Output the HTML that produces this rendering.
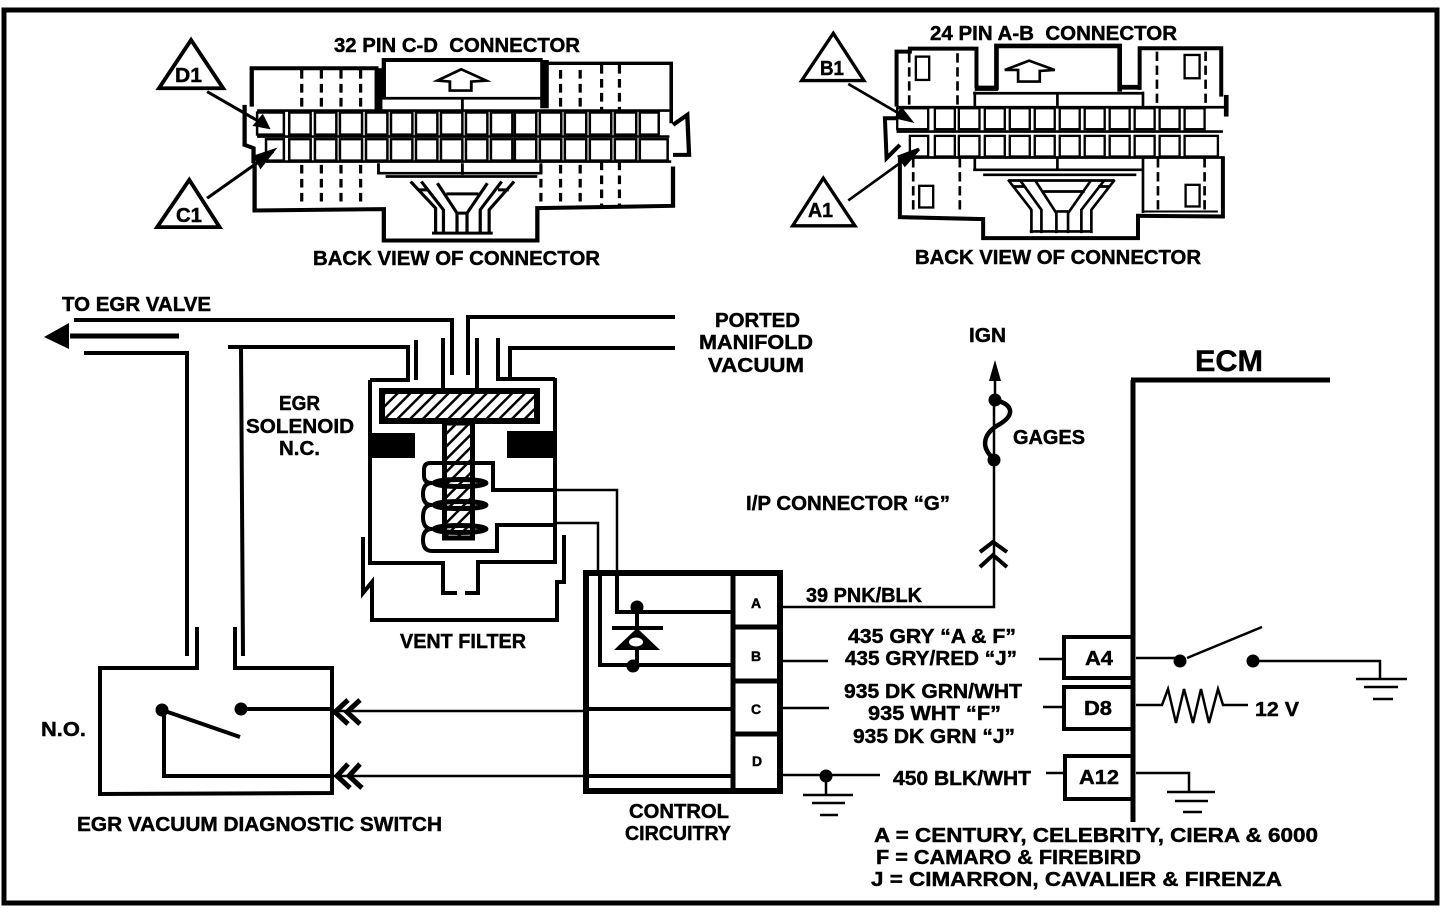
<!DOCTYPE html>
<html><head><meta charset="utf-8"><style>
html,body{margin:0;padding:0;background:#fff;width:1456px;height:918px;overflow:hidden}
svg{display:block}
text{font-family:"Liberation Sans",sans-serif;font-weight:bold;font-size:20px;fill:#000;stroke:#000;stroke-width:.45}
.l{fill:none;stroke:#000;stroke-width:4}
.t{fill:none;stroke:#000;stroke-width:2.5}
.d{fill:#000;stroke:none}
.c rect{fill:none;stroke:#000;stroke-width:7}
</style></head><body>
<svg width="1456" height="918" viewBox="0 0 1456 918" xmlns="http://www.w3.org/2000/svg">
<defs><pattern id="h" width="9" height="9" patternUnits="userSpaceOnUse" patternTransform="rotate(45)"><rect width="9" height="9" fill="#fff"/><rect width="2.5" height="9" fill="#000"/></pattern></defs>
<rect x="4" y="10" width="1433" height="893" fill="none" stroke="#000" stroke-width="5"/>

<!-- 32 pin -->
<g transform="translate(150,20) scale(.357,.333)" fill="none" stroke="#000" stroke-width="9">
<path d="M285 260V145H640" stroke-width="12"/>
<path d="M640 145V280" stroke-width="22"/>
<path d="M655 235V120H1100" stroke-width="12"/>
<path d="M1105 120V265" stroke-width="24"/>
<path d="M1115 130H1460V310" stroke-width="10"/>
<path d="M650 235H1100M875 235V270" stroke-width="8"/>
<path d="M300 272H1455M300 350H1455M325 425H1460M640 430V460H1095V430M875 430V465" stroke-width="8"/>
<path d="M425 150V270M480 150V270M535 150V270M590 150V270M1150 150V270M1205 150V270M1265 135V270M1315 135V270M425 435V560M480 435V560M535 435V560M590 435V560M1095 435V560M1150 435V560M1205 435V560M1265 425V560M1315 425V560" stroke-width="9" stroke-dasharray="26 16"/>
<path d="M265 255V375L290 385V430" stroke-width="12"/>
<path d="M293 430V572L655 568V662H1085V565L1465 558V440" stroke-width="12"/>
<path d="M1465 315L1505 285L1510 405H1465" stroke-width="12"/>
<path d="M872 148L942 182L900 185V212H840V185L805 182Z" stroke-width="8"/>
<g class="c">
<rect x="300" y="278" width="75" height="66"/><rect x="390" y="278" width="60" height="66"/><rect x="462" y="278" width="60" height="66"/><rect x="532" y="278" width="62" height="66"/><rect x="605" y="278" width="60" height="66"/><rect x="675" y="278" width="60" height="66"/><rect x="745" y="278" width="60" height="66"/><rect x="815" y="278" width="60" height="66"/><rect x="885" y="278" width="60" height="66"/><rect x="955" y="278" width="60" height="66"/><rect x="1022" y="278" width="60" height="66"/><rect x="1092" y="278" width="60" height="66"/><rect x="1162" y="278" width="60" height="66"/><rect x="1232" y="278" width="60" height="66"/><rect x="1302" y="278" width="60" height="66"/><rect x="1372" y="278" width="53" height="66"/>
<rect x="325" y="358" width="50" height="64"/><rect x="390" y="358" width="60" height="64"/><rect x="462" y="358" width="60" height="64"/><rect x="532" y="358" width="62" height="64"/><rect x="605" y="358" width="60" height="64"/><rect x="675" y="358" width="60" height="64"/><rect x="745" y="358" width="60" height="64"/><rect x="815" y="358" width="60" height="64"/><rect x="885" y="358" width="60" height="64"/><rect x="955" y="358" width="60" height="64"/><rect x="1022" y="358" width="60" height="64"/><rect x="1092" y="358" width="60" height="64"/><rect x="1162" y="358" width="60" height="64"/><rect x="1232" y="358" width="60" height="64"/><rect x="1302" y="358" width="60" height="64"/><rect x="1372" y="358" width="78" height="64"/>
</g>
<path d="M660 470H1085" stroke-width="8"/>
<path d="M730 485L800 565V640M760 485L822 570V640M805 490L860 580V640M945 490L888 580V640M985 485L925 570V640M1020 485L950 570V640M830 522H920M860 580H888M750 510H780M975 510H1005M790 640H960" stroke-width="9"/>
<path d="M115 60L25 205H205Z" stroke-width="11"/>
<path d="M110 480L20 622H195Z" stroke-width="11"/>
<path d="M160 215L330 320M160 535L345 395" stroke-width="9"/>
<path d="M330 322L295 315L315 290ZM345 392L310 440L295 410Z" fill="#000"/>
</g>

<!-- 24 pin -->
<g transform="translate(790,10) scale(.333)" fill="none" stroke="#000" stroke-width="9">
<path d="M320 290V125H360V116H560V235" stroke-width="12"/>
<path d="M555 235H625" stroke-width="16"/>
<path d="M620 240V108H990V245" stroke-width="14"/>
<path d="M985 232H1050" stroke-width="14"/>
<path d="M1050 240V115H1295V260" stroke-width="12"/>
<path d="M1310 255V320" stroke-width="14"/>
<path d="M550 250H1060M550 480H1060M580 495H1040M803 250V288M803 445V480M555 245V290M555 445V480M1060 245V290M1060 445V610" stroke-width="8"/>
<path d="M320 292H1305M320 365H1300M360 443H1305" stroke-width="8"/>
<path d="M358 130V290M503 130V290M1102 125V290M1248 125V290M370 445V610M510 445V610M1105 445V610M1245 445V610" stroke-width="8" stroke-dasharray="28 14"/>
<path d="M320 325H285L290 445L330 405" stroke-width="12"/>
<path d="M330 440V622L580 628V685H1045V618L1300 620V440" stroke-width="12"/>
<path d="M1062 605H1285" stroke-width="6"/>
<path d="M645 180L718 152L795 180L750 183V215H685V180Z" stroke-width="8"/>
<g class="c">
<rect x="322" y="295" width="93" height="63"/><rect x="435" y="295" width="60" height="63"/><rect x="507" y="295" width="62" height="63"/><rect x="585" y="295" width="60" height="63"/><rect x="660" y="295" width="60" height="63"/><rect x="735" y="295" width="60" height="63"/><rect x="810" y="295" width="60" height="63"/><rect x="885" y="295" width="60" height="63"/><rect x="960" y="295" width="60" height="63"/><rect x="1035" y="295" width="60" height="63"/><rect x="1110" y="295" width="60" height="63"/><rect x="1185" y="295" width="60" height="63"/>
<rect x="360" y="378" width="55" height="62"/><rect x="435" y="378" width="60" height="62"/><rect x="507" y="378" width="62" height="62"/><rect x="585" y="378" width="60" height="62"/><rect x="660" y="378" width="60" height="62"/><rect x="735" y="378" width="60" height="62"/><rect x="810" y="378" width="60" height="62"/><rect x="885" y="378" width="60" height="62"/><rect x="960" y="378" width="60" height="62"/><rect x="1035" y="378" width="60" height="62"/><rect x="1110" y="378" width="60" height="62"/><rect x="1185" y="378" width="100" height="62"/>
<rect x="378" y="140" width="40" height="70"/><rect x="388" y="528" width="42" height="65"/><rect x="1185" y="135" width="45" height="70"/><rect x="1188" y="525" width="42" height="65"/>
</g>
<path d="M655 510L725 600V670M690 510L755 600V670M735 510L800 610V670M905 510L835 610V670M945 510L875 600V670M975 510L905 600V670M655 512H975M755 545H885M800 605H835M720 665H905M672 530H705M925 530H960" stroke-width="8"/>
<path d="M130 70L35 212H222Z" stroke-width="10"/>
<path d="M100 505L8 648H195Z" stroke-width="10"/>
<path d="M175 222L360 330M175 572L385 420" stroke-width="8"/>
<path d="M362 332L320 322L335 298ZM387 418L345 465L328 440Z" fill="#000"/>
</g>

<!-- hoses -->
<g class="l">
<path d="M74 320H452V375"/>
<path d="M468 375V317H675"/>
<path d="M70 336H179" stroke-width="5"/>
<path d="M84 353H187V656"/>
<path d="M228 347H408V380H370"/>
<path d="M241 347L243 656"/>
<path d="M197 627V668H100V794L332 793V668H235V627"/>
<path d="M416 340V380M443 338V388M477 338V388M498 338V379H555M510 378V348H675"/>
<path d="M370 380V563H443V593H457M555 378V562H478V593H465"/>
<path d="M363 537V593L372 582V620H557V582H564V535"/>
</g>
<path class="d" d="M44 337L69 323V349Z"/>

<!-- solenoid -->
<rect x="382" y="391" width="155" height="30" fill="url(#h)" stroke="#000" stroke-width="6"/>
<rect x="444.500" y="423" width="28" height="115" fill="url(#h)" stroke="#000" stroke-width="5"/>
<rect class="d" x="372" y="433" width="43" height="25"/><rect class="d" x="507" y="431" width="46" height="27"/>
<g class="l" stroke-width="3.500">
<path d="M497 490H493V463H430Q424 463 424 470V476Q424 483 432 483Q423 483 423 494Q423 505 432 505Q423 505 423 517Q423 529 432 529Q423 529 423 540Q423 551 432 551H497V525H555"/>
<path d="M493 490H555"/>
</g>
<g fill="none" stroke="#000" stroke-width="5">
<ellipse cx="460" cy="483" rx="26" ry="3.500"/><ellipse cx="460" cy="505" rx="26" ry="3.500"/><ellipse cx="460" cy="529" rx="26" ry="3.500"/>
</g>
<g class="t">
<path d="M555 490H617V572M555 523H598V572"/>
</g>

<!-- control box -->
<g class="l">
<path d="M586 573H780V791H586Z" stroke-width="6"/>
<path d="M733 573V791M733 627H780M733 681H780M733 734H780" stroke-width="5"/>
<path d="M585 709H733M586 776H733M617 572V612H733M600 572V665H733"/>
<path d="M637 607V665M612 628H663"/>
</g>
<circle class="d" cx="637" cy="607" r="6.500"/><circle class="d" cx="633" cy="666" r="6.500"/>
<path class="d" d="M637 628L614 650H660Z"/><ellipse cx="636" cy="642" rx="7" ry="4.500" fill="#fff"/>

<g class="t">
<path d="M783 607H994V400"/>
<path d="M783 661H828M783 708H829M783 775H880M332 711H583M332 776H583"/>
</g>
<path class="l" d="M162 710L240 737M164 710V776H332M241 709H332"/>
<circle class="d" cx="162" cy="710" r="6.500"/><circle class="d" cx="241" cy="709" r="6.500"/>
<g fill="none" stroke="#000" stroke-width="5">
<path d="M348 700L335 712L348 724M360 700L347 712L360 724M348 764L337 776L350 788M360 764L349 776L362 788"/>
<path d="M980 552L993 542L1007 552M980 567L993 555L1007 567" stroke-width="4"/>
<path d="M995 400C1012 404 1016 414 1000 424C985 432 978 446 995 460" stroke-width="4.500"/>
</g>
<circle class="d" cx="995" cy="400" r="6.500"/><circle class="d" cx="994" cy="460" r="6.500"/>
<path class="d" d="M995 360L989 381H1001Z"/>
<path class="t" d="M995 375V400"/>

<!-- ECM -->
<path d="M1133 380V822M1131 380H1330" fill="none" stroke="#000" stroke-width="5"/>
<g class="l">
<rect x="1064" y="637" width="69" height="41"/><rect x="1064" y="687" width="69" height="42"/><rect x="1065" y="756" width="68" height="43"/>
</g>
<g class="t">
<path d="M1039 659H1062M1043 707H1062M1046 773H1063M1136 658H1180M1187 658L1262 627M1253 661H1380V679M1136 705H1162L1168 689L1176 723L1184 689L1193 723L1201 689L1209 723L1218 689L1223 705H1248M1136 773H1189V792"/>
<path d="M1356 679H1407M1364 687H1398M1373 699H1393M1167 792H1215M1175 801H1208M1183 812H1202M826 776V795M803 795H853M812 803H845M820 815H838"/>
</g>
<circle class="d" cx="1180" cy="661" r="6.500"/><circle class="d" cx="1253" cy="661" r="6.500"/><circle class="d" cx="826" cy="776" r="6.500"/>

<!-- labels -->
<text x="334" y="52" textLength="246" lengthAdjust="spacingAndGlyphs">32 PIN C-D&#160; CONNECTOR</text>
<text x="313" y="265" textLength="287" lengthAdjust="spacingAndGlyphs">BACK VIEW OF CONNECTOR</text>
<text x="930" y="40" textLength="247" lengthAdjust="spacingAndGlyphs">24 PIN A-B&#160; CONNECTOR</text>
<text x="915" y="264" textLength="286" lengthAdjust="spacingAndGlyphs">BACK VIEW OF CONNECTOR</text>
<text x="175" y="82" textLength="27" lengthAdjust="spacingAndGlyphs">D1</text>
<text x="176" y="222" textLength="26" lengthAdjust="spacingAndGlyphs">C1</text>
<text x="820" y="75" textLength="24" lengthAdjust="spacingAndGlyphs">B1</text>
<text x="808" y="217" textLength="25" lengthAdjust="spacingAndGlyphs">A1</text>
<text x="62" y="311" textLength="149" lengthAdjust="spacingAndGlyphs">TO EGR VALVE</text>
<text x="715" y="327" textLength="85" lengthAdjust="spacingAndGlyphs">PORTED</text>
<text x="699" y="349" textLength="114" lengthAdjust="spacingAndGlyphs">MANIFOLD</text>
<text x="708" y="372" textLength="96" lengthAdjust="spacingAndGlyphs">VACUUM</text>
<text x="969" y="342" textLength="37" lengthAdjust="spacingAndGlyphs">IGN</text>
<text x="1195" y="371" textLength="68" lengthAdjust="spacingAndGlyphs" style="font-size:30px">ECM</text>
<text x="1013" y="444" textLength="72" lengthAdjust="spacingAndGlyphs">GAGES</text>
<text x="279" y="410" textLength="41" lengthAdjust="spacingAndGlyphs">EGR</text>
<text x="246" y="433" textLength="108" lengthAdjust="spacingAndGlyphs">SOLENOID</text>
<text x="279" y="455" textLength="41" lengthAdjust="spacingAndGlyphs">N.C.</text>
<text x="746" y="510" textLength="204" lengthAdjust="spacingAndGlyphs">I/P CONNECTOR “G”</text>
<text x="806" y="602" textLength="116" lengthAdjust="spacingAndGlyphs">39 PNK/BLK</text>
<text x="848" y="643" textLength="168" lengthAdjust="spacingAndGlyphs">435 GRY “A &amp; F”</text>
<text x="845" y="665" textLength="172" lengthAdjust="spacingAndGlyphs">435 GRY/RED “J”</text>
<text x="844" y="698" textLength="178" lengthAdjust="spacingAndGlyphs">935 DK GRN/WHT</text>
<text x="868" y="720" textLength="133" lengthAdjust="spacingAndGlyphs">935 WHT “F”</text>
<text x="853" y="743" textLength="162" lengthAdjust="spacingAndGlyphs">935 DK GRN “J”</text>
<text x="893" y="785" textLength="138" lengthAdjust="spacingAndGlyphs">450 BLK/WHT</text>
<text x="1085" y="665" textLength="28" lengthAdjust="spacingAndGlyphs">A4</text>
<text x="1084" y="715" textLength="28" lengthAdjust="spacingAndGlyphs">D8</text>
<text x="1079" y="784" textLength="40" lengthAdjust="spacingAndGlyphs">A12</text>
<text x="1255" y="716" textLength="44" lengthAdjust="spacingAndGlyphs">12 V</text>
<text x="41" y="736" textLength="45" lengthAdjust="spacingAndGlyphs">N.O.</text>
<text x="400" y="648" textLength="126" lengthAdjust="spacingAndGlyphs">VENT FILTER</text>
<text x="629" y="818" textLength="100" lengthAdjust="spacingAndGlyphs">CONTROL</text>
<text x="625" y="840" textLength="106" lengthAdjust="spacingAndGlyphs">CIRCUITRY</text>
<text x="77" y="831" textLength="365" lengthAdjust="spacingAndGlyphs">EGR VACUUM DIAGNOSTIC SWITCH</text>
<text x="874" y="842" textLength="444" lengthAdjust="spacingAndGlyphs">A = CENTURY, CELEBRITY, CIERA &amp; 6000</text>
<text x="876" y="864" textLength="265" lengthAdjust="spacingAndGlyphs">F = CAMARO &amp; FIREBIRD</text>
<text x="871" y="886" textLength="411" lengthAdjust="spacingAndGlyphs">J = CIMARRON, CAVALIER &amp; FIRENZA</text>
<text x="751" y="608" style="font-size:14px">A</text>
<text x="751" y="661" style="font-size:14px">B</text>
<text x="751" y="714" style="font-size:14px">C</text>
<text x="752" y="766" style="font-size:14px">D</text>
</svg>
</body></html>
